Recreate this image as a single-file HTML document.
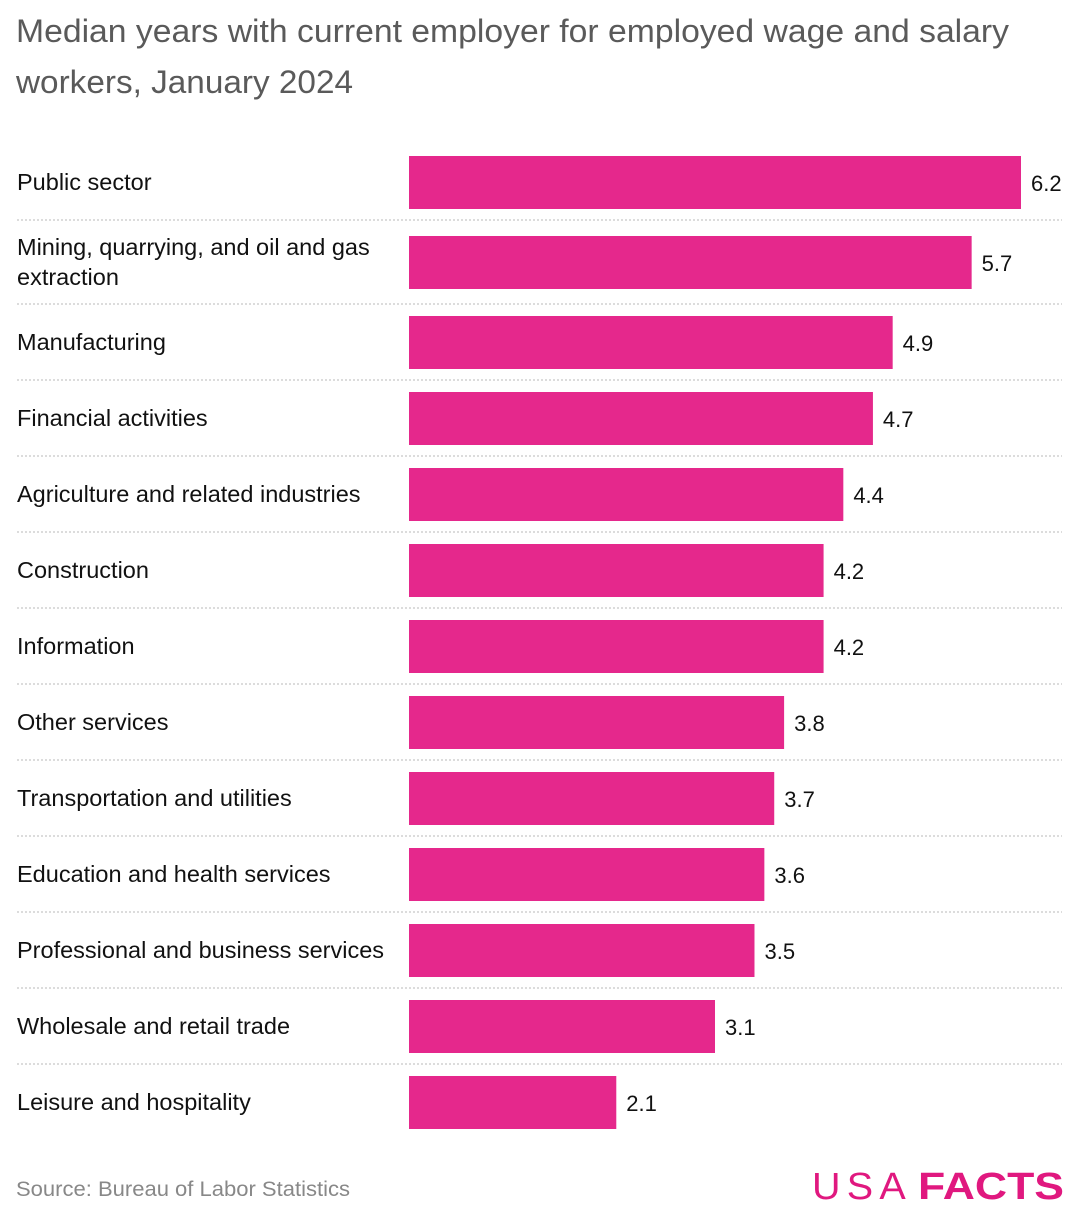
<!DOCTYPE html>
<html><head><meta charset="utf-8"><style>
body{margin:0;background:#fff;width:1080px;height:1221px;overflow:hidden;font-family:"Liberation Sans",sans-serif}
</style></head><body>
<svg id="chart" width="1080" height="1221" xmlns="http://www.w3.org/2000/svg" font-family="Liberation Sans, sans-serif">
<text x="16" y="42" font-size="32" fill="#5a5a5a" textLength="993" lengthAdjust="spacingAndGlyphs">Median years with current employer for employed wage and salary</text>
<text x="16" y="93" font-size="32" fill="#5a5a5a" textLength="337" lengthAdjust="spacingAndGlyphs">workers, January 2024</text>
<g id="rows"></g>
<text x="16" y="1196" font-size="21" fill="#888" textLength="334" lengthAdjust="spacingAndGlyphs">Source: Bureau of Labor Statistics</text>
<g fill="#e0187f">
<text x="812" y="1199" font-size="38" font-weight="normal" textLength="100" lengthAdjust="spacingAndGlyphs" letter-spacing="6">USA</text>
<text x="918" y="1199" font-size="38" font-weight="bold" textLength="146" lengthAdjust="spacingAndGlyphs">FACTS</text>
</g>
</svg>
<script>
const categories=["Public sector","Mining, quarrying, and oil and gas|extraction","Manufacturing","Financial activities","Agriculture and related industries","Construction","Information","Other services","Transportation and utilities","Education and health services","Professional and business services","Wholesale and retail trade","Leisure and hospitality"];
const values=[6.2,5.7,4.9,4.7,4.4,4.2,4.2,3.8,3.7,3.6,3.5,3.1,2.1];
const valueLabels=["6.2","5.7","4.9","4.7","4.4","4.2","4.2","3.8","3.7","3.6","3.5","3.1","2.1"];
const NS="http://www.w3.org/2000/svg";
const g=document.getElementById('rows');
const x0=409, pxPerUnit=612/6.2;
function xScale(v){return v*pxPerUnit;}
function rowTop(i){return i===0?156:(i===1?236:316+(i-2)*76);}
function mk(t,a){const e=document.createElementNS(NS,t);for(const k in a)e.setAttribute(k,a[k]);g.appendChild(e);return e;}
categories.forEach((c,i)=>{
  const y=rowTop(i);
  const r=mk('rect',{x:x0,y:y,width:xScale(values[i]),height:53,fill:'#e5288c'});
  
  
  const lines=c.split('|');
  lines.forEach((l,j)=>{
    const t=mk('text',{x:17,y:(lines.length>1?y+19+j*30:y+34),'font-size':23.5,fill:'#111'});
    t.textContent=l;
    
    
  });
  const v=mk('text',{x:x0+xScale(values[i])+10,y:y+35,'font-size':22,fill:'#111'});
  v.textContent=valueLabels[i];
  
  
  if(i<categories.length-1){
    const sy=(i===0?220:rowTop(i+1)-12);
    const ln=mk('line',{x1:17,x2:1062,y1:sy,y2:sy,stroke:'#c8c8c8','stroke-width':1.2,'stroke-dasharray':'2 2'});
    
    
  }
});
</script>
</body></html>
